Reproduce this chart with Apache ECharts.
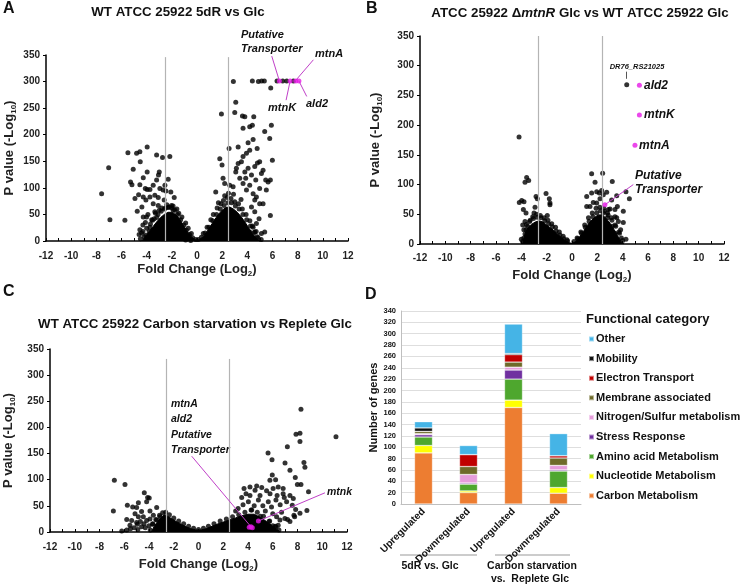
<!DOCTYPE html>
<html>
<head>
<meta charset="utf-8">
<script src="https://cdn.jsdelivr.net/npm/echarts@6/dist/echarts.min.js"></script>
<style>
  html, body { margin: 0; padding: 0; background: #fff; }
  #chart { width: 741px; height: 585px; }
</style>
</head>
<body>
<div id="chart"></div>
<script>
// ---- Panel A: WT 5dR vs Glc ----
const aPoints = [
  [-7.58,89],[-7.02,138],[-6.92,40],[-5.73,39],[-5.49,166],[-4.8,165],[-4.54,168],[-3.96,177],[-3.21,162],[-2.74,157],
  [-2.16,159],[-4.51,149],[-5.07,135],[-3.96,130],[-5.28,111],[-5.17,106],[-4.54,106],[-4.27,119],[-3.21,115],[-3.0,130],
  [-3.06,124],[-2.29,116],[-2.55,105],[-4.11,99],[-3.96,97],[-3.74,97],[-3.48,105],[-2.95,99],[-4.93,80],[-4.64,87],
  [-4.27,83],[-4.06,77],[-4.75,56],[-4.38,64],[-3.74,83],[-3.35,86],[-3.08,82],[-2.69,96],[-2.47,94],[-2.08,92],
  [-1.81,82],[-3.48,70],[-3.08,67],[-2.61,77],[-4.27,45],[-4.01,45],[-4.54,21],[-4.4,15],[-4.06,11],[-3.74,26],
  [-3.53,39],[-3.35,55],[-1.68,42],[-2.02,67],[-1.89,58],
  [-4.3,30],[-4.1,35],[-3.9,50],[-3.6,40],[-3.3,52],[-3.0,58],[-2.8,62],[-2.4,68],[-2.2,64],[-1.9,66],
  [-1.6,60],[-1.45,52],[-1.2,45],[-0.9,34],[-0.7,24],[-0.45,14],[-3.8,18],[-4.2,8],[-4.5,4],[-3.2,44],
  [-2.6,60],[-1.3,5],[-0.9,2],[-0.5,1],
  [-4.6,12],[-4.3,18],[-4.0,24],[-3.7,32],[-3.4,42],[-3.1,50],[-2.85,56],[-2.5,62],[-2.3,63],[-2.0,62],
  [-1.75,58],[-1.55,50],[-1.3,40],[-1.05,30],[-0.85,20],[-0.6,12],[-0.35,6],[-0.1,3],
  [3.08,261],[1.94,239],[3.0,242],[3.61,235],[3.8,234],[4.51,234],[5.91,218],[4.4,218],[4.19,215],[3.66,212],
  [5.38,206],[5.78,193],[4.46,191],[4.06,185],[2.55,174],[3.27,177],[4.78,174],[4.19,171],[3.93,165],[3.66,159],
  [1.81,155],[5.99,152],[4.98,149],[4.8,147],[3.27,146],[1.99,143],[3.53,149],[3.13,137],[4.06,137],[4.59,140],
  [5.25,133],[3.8,130],[3.08,130],[5.12,127],[4.33,124],[3.4,118],[3.87,118],[2.07,118],[5.46,115],[5.65,111],
  [4.67,115],[2.2,108],[2.6,105],[4.98,99],[3.66,108],[4.19,105],[2.87,102],[1.49,92],[3.93,96],[4.46,89],
  [4.72,83],[4.98,70],[5.25,70],[4.59,77],[4.33,64],[4.59,55],[5.83,48],[4.93,42],[4.72,33],[4.46,26],
  [4.19,17],[4.59,17],[5.12,14],[5.38,17],[3.4,8],[4.06,8],[4.78,8],[4.5,6],[5.51,96],[5.83,115],
  [2.89,300],[4.4,301],[4.88,300],[5.14,301],[5.35,301],[5.86,288],[6.36,301],[6.81,301],[7.13,301],[7.66,301],
  [0.5,14],[0.8,26],[1.1,40],[1.3,50],[1.6,62],[1.9,70],[2.1,76],[2.4,82],[2.7,80],[3.0,74],
  [3.3,70],[3.6,60],[3.9,50],[4.2,38],[4.4,28],[4.7,18],[2.2,85],[2.9,88],[3.5,78],[1.7,72],[2.5,90],
  [0.1,3],[0.35,7],[0.65,15],[0.95,26],[1.25,38],[1.55,50],[1.85,60],[2.15,67],[2.45,72],[2.75,72],
  [3.05,66],[3.35,60],[3.65,50],[3.95,40],[4.25,28],[4.55,16],[4.85,6],[5.1,3]
];
const aDense = [
  [-4.4,0],[-4.1,8],[-3.8,18],[-3.5,27],[-3.2,36],[-2.9,44],[-2.6,50],[-2.3,54],[-2.0,54],[-1.7,50],
  [-1.4,42],[-1.1,30],[-0.8,19],[-0.5,9],[-0.2,3],[0,1],[0.2,3],[0.5,8],[0.8,18],[1.1,29],
  [1.4,40],[1.7,50],[2.0,58],[2.3,63],[2.6,64],[2.9,60],[3.2,54],[3.5,46],[3.8,36],[4.1,25],
  [4.4,14],[4.7,5],[5.0,0]
];
const aHits = [[6.55,301],[7.4,301],[7.85,301],[8.1,301]];
const aLeaders = [[[5.94,348],[6.55,301]],[[9.25,341],[7.8,301]],[[7.4,301],[7.08,265]],[[8.1,301],[8.72,272]]];
const aCutoffs = [-2.5, 2.5];

// ---- Panel B: dmtnR Glc vs WT Glc ----
const bPoints = [
  [-4.18,180],[-3.58,112],[-3.71,104],[-3.42,107],[-4.16,70],[-3.97,73],[-3.79,71],[-3.84,58],[-3.63,52],[-3.71,38],
  [-3.89,32],[-3.63,24],[-3.71,17],[-3.45,14],[-2.84,80],[-2.74,76],[-2.05,85],[-1.79,76],[-1.74,66],[-1.95,48],
  [-2.92,62],[-3.0,52],[-1.74,69],
  [-3.3,40],[-3.1,46],[-2.8,50],[-2.5,48],[-2.2,44],[-1.9,40],[-1.6,34],[-1.3,28],[-1.0,20],[-0.7,13],[-0.4,7],
  [-3.5,30],[-3.8,10],[-3.9,4],
  [-4.0,8],[-3.8,24],[-3.6,33],[-3.35,38],[-3.05,43],[-2.75,45],[-2.45,44],[-2.15,39],[-1.85,34],[-1.55,29],
  [-1.25,22],[-0.95,15],[-0.65,9],[-0.35,5],
  [1.55,118],[2.42,119],[1.82,104],[3.18,105],[1.16,80],[1.55,86],[1.95,88],[2.34,90],[3.13,74],[2.87,58],
  [3.39,58],[3.53,44],[1.16,63],[1.68,70],[2.21,76],[2.16,86],[2.74,87],[2.47,83],[3.53,81],[4.26,88],
  [4.53,76],[4.05,55],[4.05,36],[4.26,8],[3.58,63],[3.0,59],[3.39,46],[3.66,38],[3.84,24],[3.39,18],
  [1.42,63],[1.95,69],[2.47,52],[2.79,44],[2.21,38],[3.16,30],
  [0.4,10],[0.7,20],[1.0,32],[1.3,44],[1.6,52],[1.9,60],[2.2,62],[2.5,60],[2.8,52],[3.1,44],
  [3.4,32],[3.7,20],[3.9,10],
  [0.15,4],[0.45,9],[0.75,18],[1.05,28],[1.35,38],[1.65,46],[1.95,52],[2.25,56],[2.55,55],[2.85,49],
  [3.15,40],[3.45,30],[3.75,18],[4.0,6],
  [4.32,268]
];
const bDense = [
  [-3.9,0],[-3.7,18],[-3.5,27],[-3.2,33],[-2.9,37],[-2.6,39],[-2.3,37],[-2.0,32],[-1.7,27],[-1.4,22],
  [-1.1,16],[-0.8,10],[-0.5,5],[-0.2,2],[0,1],[0.3,4],[0.6,12],[0.9,21],[1.2,31],[1.5,39],
  [1.8,45],[2.1,49],[2.4,49],[2.7,43],[3.0,35],[3.3,25],[3.6,14],[3.9,3],[4.1,0]
];
const bHits = [[5.32,267],[5.32,217],[4.97,166],[2.6,66]];
const bLeaders = [[[2.6,66],[4.84,100]]];
const bTag = [[4.32,278],[4.32,290]];
const bCutoffs = [-2.7, 2.4];

// ---- Panel C: carbon starvation vs replete Glc ----
const cPoints = [
  [-6.8,99],[-5.94,91],[-6.88,40],[-5.75,51],[-5.32,48],[-5.0,47],[-4.86,56],[-4.38,75],[-4.11,66],[-3.98,65],
  [-4.19,58],[-3.38,47],[-3.92,40],[-5.8,24],[-5.4,22],[-4.86,29],[-5.13,35],[-4.6,39],[-4.46,29],[-4.19,22],
  [-5.54,13],[-4.94,15],[-3.92,25],[-3.65,32],[-3.38,23],[-3.11,29],
  [-6.2,2],[-5.8,4],[-5.5,6],[-5.2,8],[-4.9,5],[-4.6,10],[-4.3,8],[-4.0,12],[-3.7,15],[-5.0,18],[-4.7,20],[-4.4,16],
  [-3.9,4],[-3.7,16],[-3.45,24],[-3.15,32],[-2.9,37],[-2.65,38],[-2.35,33],[-2.0,27],[-1.6,21],[-1.2,16],
  [-0.8,11],[-0.4,7],[0,5],[0.4,7],[0.8,11],[1.25,16],[1.75,21],[2.25,25],[2.75,29],[3.25,33],
  [3.75,38],[4.25,42],[4.75,38],[5.25,30],[5.75,21],[6.2,11],[6.5,4],
  [8.28,235],[11.11,182],[7.88,187],[8.2,189],[8.2,173],[7.18,163],[5.62,151],[5.94,138],[8.52,133],[8.6,124],
  [6.99,132],[7.39,118],[7.82,104],[5.96,109],[5.77,99],[6.23,100],[8.28,91],[7.99,91],[8.89,77],[4.16,86],
  [4.7,88],[5.11,85],[3.68,83],[4.57,80],[3.84,73],[5.5,79],[6.03,83],[6.44,86],[6.84,83],[3.49,66],
  [4.16,70],[4.97,70],[5.78,73],[6.35,70],[6.84,73],[7.39,70],[7.66,64],[4.03,58],[4.84,61],[5.64,58],
  [6.26,61],[6.93,66],[7.12,58],[7.58,51],[7.85,43],[8.2,36],[7.71,32],[6.71,38],[6.31,29],[6.58,23],
  [6.98,26],[7.39,20],[6.44,13],[6.26,10],[7.2,24],[7.77,29],[8.76,41],
  [5.2,50],[5.9,48],[6.6,52],[5.4,40],[6.0,35],[4.5,50],[3.2,45],[3.6,52],[4.3,42],[5.0,30],[5.7,20],[6.0,12],[3.0,40]
];
const cDense = [
  [-3.8,0],[-3.6,10],[-3.3,20],[-3.0,28],[-2.75,33],[-2.5,30],[-2.2,26],[-1.8,20],[-1.4,15],[-1.0,10],
  [-0.6,6],[-0.2,4],[0.2,4],[0.6,6],[1.0,10],[1.5,15],[2.0,19],[2.5,23],[3.0,27],[3.5,31],
  [4.0,34],[4.5,34],[5.0,28],[5.5,20],[6.0,11],[6.4,4],[6.6,0]
];
const cHits = [[4.84,21],[4.24,10],[4.1,9],[4.35,8]];
const cLeaders = [[[4.84,21],[10.22,75]],[[-0.55,145],[4.24,10]]];
const cCutoffs = [-2.6, 2.5];

// ---- Panel D: functional categories ----
const dCategories = ['Upregulated', 'Downregulated', 'Upregulated', 'Downregulated'];
const dNames = ['Carbon Metabolism', 'Nucleotide Metabolism', 'Amino acid Metabolism', 'Stress Response',
  'Nitrogen/Sulfur metabolism', 'Membrane associated', 'Electron Transport', 'Mobility', 'Other'];
const dColors = ['#ed7d31', '#ffff00', '#4ea72e', '#7030a0', '#e59ddb', '#6e6a2a', '#c00000', '#111111', '#45b4e6'];
const dCarbon     = [90, 20, 170, 19];
const dNucleotide = [13, 3, 13, 10];
const dAmino      = [15, 12, 37, 29];
const dStress     = [4, 2, 16, 2];
const dNitrogen   = [2, 15, 5, 8];
const dMembrane   = [4, 14, 9, 13];
const dElectron   = [0, 21, 13, 4];
const dMobility   = [6, 0, 2, 0];
const dOther      = [11, 16, 52, 39];
const dValues = [dCarbon, dNucleotide, dAmino, dStress, dNitrogen, dMembrane, dElectron, dMobility, dOther];

const FONT = '"Liberation Sans", Arial, sans-serif';
const MAGENTA = '#e619e6';

const nameRich = {
  a: { fontSize: 13, fontWeight: 'bold', color: '#222', fontFamily: FONT, lineHeight: 16 },
  s: { fontSize: 8, fontWeight: 'bold', color: '#222', fontFamily: FONT, lineHeight: 16, verticalAlign: 'bottom', padding: [6, 0, 0, 0] }
};

function volcanoX(grid, gap, margin) {
  return {
    type: 'value', gridIndex: grid, min: -12, max: 12, interval: 2,
    name: '{a|Fold Change (Log}{s|2}{a|)}', nameLocation: 'middle', nameGap: gap,
    nameTextStyle: { rich: nameRich },
    axisLine: { onZero: false, lineStyle: { color: '#000', width: 1.5 } },
    axisTick: { inside: true, length: 3, lineStyle: { color: '#000' } },
    minorTick: { show: true, splitNumber: 2, length: 3, lineStyle: { color: '#000' } },
    axisLabel: { fontSize: 10, fontWeight: 'bold', color: '#222', fontFamily: FONT, margin: margin },
    splitLine: { show: false }
  };
}

function volcanoY(grid, gap) {
  return {
    type: 'value', gridIndex: grid, min: 0, max: 350, interval: 50,
    name: '{a|P value (-Log}{s|10}{a|)}', nameLocation: 'middle', nameGap: gap,
    nameTextStyle: { rich: nameRich },
    axisLine: { show: true, onZero: false, lineStyle: { color: '#000', width: 1.5 } },
    axisTick: { show: true, length: 3, lineStyle: { color: '#000' } },
    axisLabel: { fontSize: 10, fontWeight: 'bold', color: '#222', fontFamily: FONT, margin: 6 },
    splitLine: { show: false }
  };
}

// black dots, dense core, cutoff lines, magenta hits with leader lines
function volcanoSeries(i, points, dense, hits, leaders, cutoffs, cutTop) {
  const lines = cutoffs.map(x => [
    { coord: [x, 0], lineStyle: { color: '#b4b4b4', width: 1.2, type: 'solid' } },
    { coord: [x, cutTop] }
  ]);
  const leads = leaders.map(l => [
    { coord: l[0], lineStyle: { color: '#c040c8', width: 1, type: 'solid' } },
    { coord: l[1] }
  ]);
  return [
    {
      type: 'line', xAxisIndex: i, yAxisIndex: i, data: dense, symbol: 'none', silent: true, z: 2,
      lineStyle: { color: '#000', width: 1 }, areaStyle: { color: '#000', opacity: 1 }
    },
    {
      type: 'scatter', xAxisIndex: i, yAxisIndex: i, data: points, symbolSize: 5, silent: true, z: 3,
      itemStyle: { color: '#000' }
    },
    {
      type: 'scatter', xAxisIndex: i, yAxisIndex: i, data: hits, symbolSize: 5, silent: true, z: 5,
      itemStyle: { color: MAGENTA },
      markLine: {
        silent: true, symbol: ['none', 'none'], label: { show: false },
        lineStyle: { type: 'solid' }, data: lines.concat(leads)
      }
    }
  ];
}

function txt(x, y, text, size, opts) {
  return {
    type: 'text', x: x, y: y, silent: true,
    style: Object.assign({
      text: text, fontSize: size, fontWeight: 'bold', fontFamily: FONT, fill: '#111',
      align: 'left', verticalAlign: 'middle'
    }, opts || {})
  };
}

const chart = echarts.init(document.getElementById('chart'));

const barSeries = dNames.map((n, k) => ({
  name: n, type: 'bar', stack: 'genes', xAxisIndex: 3, yAxisIndex: 3, barWidth: 18,
  data: dValues[k], itemStyle: { color: dColors[k], borderColor: 'rgba(255,255,255,0.5)', borderWidth: 0.6 }
}));

const bTagSeries = {
  type: 'scatter', xAxisIndex: 1, yAxisIndex: 1, data: [], silent: true, z: 5,
  markLine: {
    silent: true, symbol: ['none', 'none'], label: { show: false }, lineStyle: { type: 'solid' },
    data: [[{ coord: bTag[0], lineStyle: { color: '#555', width: 1, type: 'solid' } }, { coord: bTag[1] }]]
  }
};

const titleRich = {
  n: { fontSize: 13.3, fontWeight: 'bold', fontFamily: FONT, fill: '#111' },
  i: { fontSize: 13.3, fontWeight: 'bold', fontStyle: 'italic', fontFamily: FONT, fill: '#111' }
};

chart.setOption({
  animation: false,
  backgroundColor: '#fff',
  grid: [
    { left: 46, top: 55, width: 302, height: 186 },
    { left: 420, top: 36, width: 304, height: 208 },
    { left: 50, top: 349, width: 297, height: 183 },
    { left: 401, top: 311, width: 180, height: 193 }
  ],
  xAxis: [
    volcanoX(0, 20.5, 10),
    volcanoX(1, 23.5, 9),
    volcanoX(2, 24.5, 10),
    {
      type: 'category', gridIndex: 3, data: dCategories,
      axisLine: { lineStyle: { color: '#bfbfbf' } }, axisTick: { show: false },
      axisLabel: { rotate: 45, fontSize: 10, fontWeight: 'bold', color: '#111', fontFamily: FONT, margin: 6, interval: 0 }
    }
  ],
  yAxis: [
    volcanoY(0, 28.5),
    volcanoY(1, 36.5),
    volcanoY(2, 33.5),
    {
      type: 'value', gridIndex: 3, min: 0, max: 340, interval: 20,
      name: 'Number of genes', nameLocation: 'middle', nameGap: 19.5,
      nameTextStyle: { fontSize: 11, fontWeight: 'bold', color: '#111', fontFamily: FONT },
      axisLine: { show: true, lineStyle: { color: '#bfbfbf' } }, axisTick: { show: false },
      axisLabel: { fontSize: 7.5, fontWeight: 'bold', color: '#111', fontFamily: FONT, margin: 5 },
      splitLine: { lineStyle: { color: '#dedede' } }
    }
  ],
  legend: {
    data: dNames.slice().reverse(), orient: 'vertical', left: 583, top: 327,
    icon: 'rect', itemWidth: 5, itemHeight: 5, itemGap: 5.6, selectedMode: false,
    textStyle: { fontSize: 11, fontWeight: 'bold', color: '#111', fontFamily: FONT, lineHeight: 14, padding: [0, 0, 0, -3] }
  },
  series: []
    .concat(volcanoSeries(0, aPoints, aDense, aHits, aLeaders, aCutoffs, 346))
    .concat(volcanoSeries(1, bPoints, bDense, bHits, bLeaders, bCutoffs, 350))
    .concat(volcanoSeries(2, cPoints, cDense, cHits, cLeaders, cCutoffs, 331))
    .concat([bTagSeries])
    .concat(barSeries),
  graphic: [
    txt(3, 9, 'A', 16), txt(366, 9, 'B', 16), txt(3, 292, 'C', 16), txt(365, 295, 'D', 16),
    txt(178, 12, 'WT ATCC 25922 5dR vs Glc', 13.3, { align: 'center' }),
    txt(580, 13, '{n|ATCC 25922 Δ}{i|mtnR}{n| Glc vs WT ATCC 25922 Glc}', 13.3, { align: 'center', rich: titleRich }),
    txt(195, 324, 'WT ATCC 25922 Carbon starvation vs Replete Glc', 13.3, { align: 'center' }),
    // A labels
    txt(241, 35, 'Putative', 11, { fontStyle: 'italic' }),
    txt(241, 49, 'Transporter', 11, { fontStyle: 'italic' }),
    txt(315, 54, 'mtnA', 11, { fontStyle: 'italic' }),
    txt(268, 108, 'mtnK', 11, { fontStyle: 'italic' }),
    txt(306, 104, 'ald2', 11, { fontStyle: 'italic' }),
    // B labels
    txt(637, 67, 'DR76_RS21025', 7.5, { fontStyle: 'italic', align: 'center' }),
    txt(644, 86, 'ald2', 12, { fontStyle: 'italic' }),
    txt(644, 115, 'mtnK', 12, { fontStyle: 'italic' }),
    txt(639, 146, 'mtnA', 12, { fontStyle: 'italic' }),
    txt(635, 176, 'Putative', 12, { fontStyle: 'italic' }),
    txt(635, 190, 'Transporter', 12, { fontStyle: 'italic' }),
    // C labels
    txt(171, 404, 'mtnA', 10.5, { fontStyle: 'italic' }),
    txt(171, 419, 'ald2', 10.5, { fontStyle: 'italic' }),
    txt(171, 435, 'Putative', 10.5, { fontStyle: 'italic' }),
    txt(171, 450, 'Transporter', 10.5, { fontStyle: 'italic' }),
    txt(327, 492, 'mtnk', 10.5, { fontStyle: 'italic' }),
    // D legend title and groups
    txt(586, 319, 'Functional category', 13),
    { type: 'line', silent: true, shape: { x1: 400, y1: 555, x2: 477, y2: 555 }, style: { stroke: '#999', lineWidth: 1 } },
    { type: 'line', silent: true, shape: { x1: 495, y1: 555, x2: 570, y2: 555 }, style: { stroke: '#999', lineWidth: 1 } },
    txt(430, 566, '5dR vs. Glc', 10.5, { align: 'center' }),
    txt(532, 566, 'Carbon starvation', 10.5, { align: 'center' }),
    txt(530, 579, 'vs.  Replete Glc', 10.5, { align: 'center' })
  ]
});
</script>
</body>
</html>
